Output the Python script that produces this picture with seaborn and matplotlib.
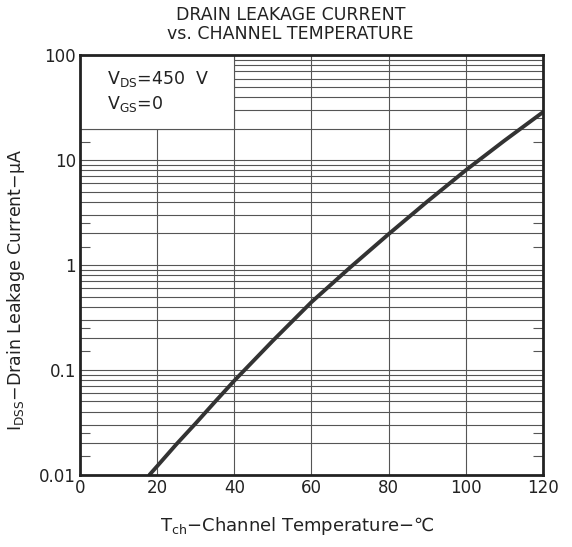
import numpy as np
import pandas as pd
import matplotlib
matplotlib.use("Agg")
import matplotlib.pyplot as plt
import matplotlib.ticker as mticker
from matplotlib.patches import Rectangle
import seaborn as sns

# --- data ---
temp_c = [18, 20, 25, 30, 35, 40, 50, 60, 70, 80, 90, 100, 110, 120]
idss_ua = [0.010, 0.0121, 0.0196, 0.031, 0.0497, 0.079, 0.19, 0.443, 0.946,
           1.97, 4.02, 8.0, 15.3, 28.6]

x_ticks = [0, 20, 40, 60, 80, 100, 120]
y_ticks = [0.01, 0.1, 1, 10, 100]
y_tick_labels = ["0.01", "0.1", "1", "10", "100"]

sns.set_style("white")
plt.rcParams["font.family"] = ["DejaVu Sans"]
plt.rcParams["mathtext.default"] = "regular"

df = pd.DataFrame({"T": temp_c, "I": idss_ua})

fig = plt.figure(figsize=(5.72, 5.47), dpi=100)
ax = fig.add_axes([0.140, 0.132, 0.809, 0.767])
ax.set_yscale("log")
ax.set_xlim(0, 120)
ax.set_ylim(0.01, 100)

# grid: vertical every 20, horizontal at 1..9 per decade
grid_kw = dict(color="#555555", lw=0.8, zorder=1)
for xv in x_ticks[1:-1]:
    ax.axvline(xv, **grid_kw)
for dec in [0.01, 0.1, 1, 10]:
    for m in range(1, 10):
        if dec * m > 0.01:
            ax.axhline(dec * m, **grid_kw)

# white box for the conditions
ax.add_patch(Rectangle((0, 20), 40, 80, facecolor="white", edgecolor="#555555",
                       lw=0.8, zorder=2))
ax.text(7, 60, "V$_{DS}$=450  V", fontsize=12.5, va="center", zorder=3, color="#222222")
ax.text(7, 34, "V$_{GS}$=0", fontsize=12.5, va="center", zorder=3, color="#222222")

sns.lineplot(data=df, x="T", y="I", ax=ax, color="#333333", lw=2.8, zorder=4)

ax.set_xticks(x_ticks)
ax.set_xticklabels([str(v) for v in x_ticks], fontsize=12, color="#222222")
ax.set_yticks(y_ticks)
ax.set_yticklabels(y_tick_labels, fontsize=12, color="#222222")
minor = [d * m for d in [0.01, 0.1, 1, 10] for m in (1.5, 2.5)]
ax.yaxis.set_minor_locator(mticker.FixedLocator(minor))
ax.yaxis.set_minor_formatter(mticker.NullFormatter())
ax.tick_params(axis="y", which="minor", direction="in", length=7, width=0.8,
               left=True, right=True, color="#555555")
ax.tick_params(axis="both", which="major", length=0, pad=3)

for s in ax.spines.values():
    s.set_linewidth(2)
    s.set_color("#222222")
    s.set_zorder(5)

ax.set_xlabel("T$_{ch}$−Channel Temperature−℃", fontsize=13, color="#222222")
ax.set_ylabel("I$_{DSS}$−Drain Leakage Current−$\\mu$A", fontsize=12.5, color="#222222")
ax.xaxis.set_label_coords(0.47, -0.097)
ax.yaxis.set_label_coords(-0.115, 0.44)

fig.text(0.508, 0.972, "DRAIN LEAKAGE CURRENT", ha="center", va="center",
         fontsize=12.5, color="#222222")
fig.text(0.508, 0.938, "vs. CHANNEL TEMPERATURE", ha="center", va="center",
         fontsize=12.5, color="#222222")

fig.savefig("out.png", dpi=100, facecolor="white")
